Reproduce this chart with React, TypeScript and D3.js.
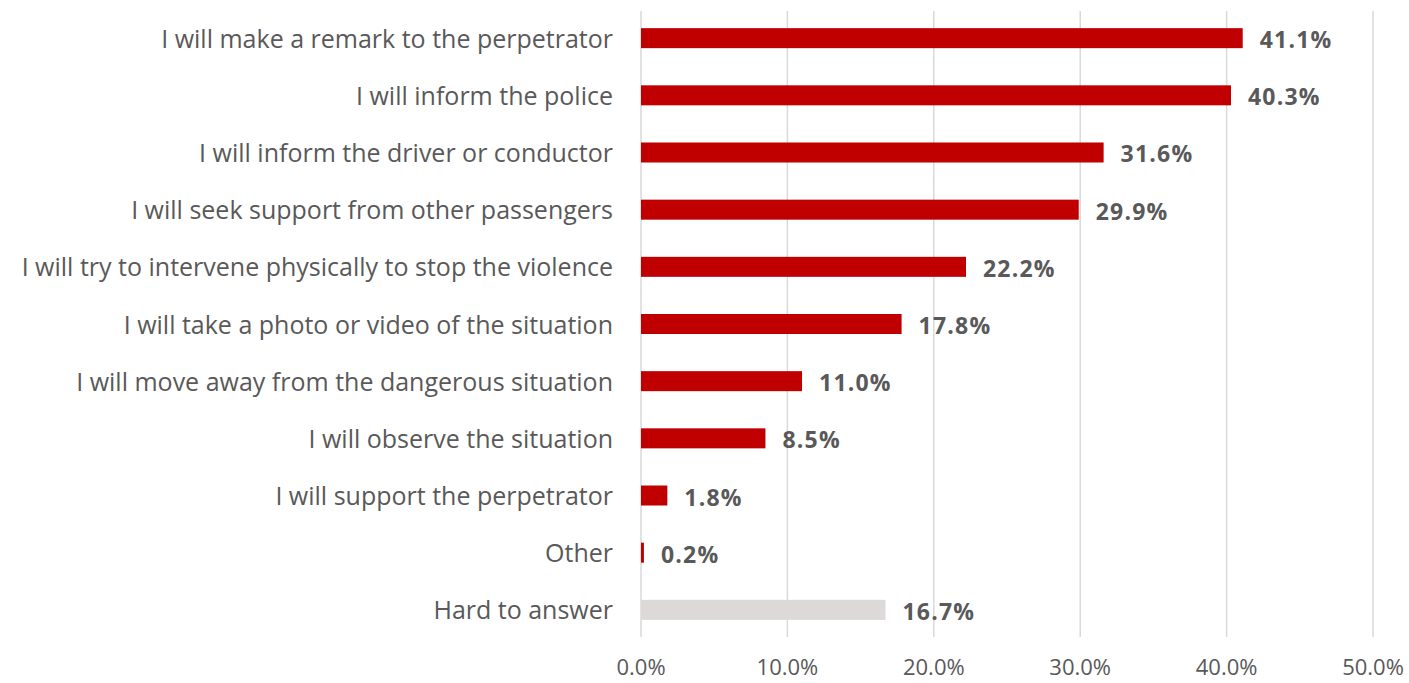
import React from "react";
import * as d3 from "d3";

const categories = [
  "I will make a remark to the perpetrator",
  "I will inform the police",
  "I will inform the driver or conductor",
  "I will seek support from other passengers",
  "I will try to intervene physically to stop the violence",
  "I will take a photo or video of the situation",
  "I will move away from the dangerous situation",
  "I will observe the situation",
  "I will support the perpetrator",
  "Other",
  "Hard to answer",
];
const values = [41.1, 40.3, 31.6, 29.9, 22.2, 17.8, 11.0, 8.5, 1.8, 0.2, 16.7];
const highlight = [false, false, false, false, false, false, false, false, false, false, true];
const ticks = [0, 10, 20, 30, 40, 50];

const W = 1409;
const H = 683;
const M = { left: 641, right: 36, top: 11, bottom: 46 };
const FONT = "'Open Sans', 'Noto Sans', sans-serif";

export default function App() {
  const x = d3.scaleLinear().domain([0, 50]).range([M.left, W - M.right]);
  const y = d3
    .scaleBand<string>()
    .domain(categories)
    .range([M.top, H - M.bottom])
    .paddingInner(0.65)
    .paddingOuter(0.3);
  const bh = y.bandwidth();
  return (
    <svg
      width={W}
      height={H}
      style={{ position: "absolute", left: 0, top: 0, background: "#fff" }}
      fontFamily={FONT}
    >
      {ticks.map((t) => (
        <g key={t}>
          <line
            x1={x(t)}
            x2={x(t)}
            y1={M.top}
            y2={H - M.bottom}
            stroke="#D9D9D9"
            strokeWidth={1.5}
          />
          <text
            x={x(t)}
            y={675}
            textAnchor="middle"
            fontSize={22}
            fill="#595959"
          >
            {t.toFixed(1) + "%"}
          </text>
        </g>
      ))}
      {categories.map((c, i) => {
        const yc = (y(c) as number) + bh / 2;
        return (
          <g key={c}>
            <rect
              x={x(0)}
              y={y(c)}
              width={x(values[i]) - x(0)}
              height={bh}
              fill={highlight[i] ? "#DDD9D9" : "#C00000"}
            />
            <text
              x={613}
              y={yc + 9.5}
              textAnchor="end"
              fontSize={25}
              fill="#595959"
            >
              {c}
            </text>
            <text
              x={x(values[i]) + 17}
              y={yc + 10}
              fontSize={23}
              letterSpacing={1.2}
              fontWeight="bold"
              fill="#595959"
            >
              {values[i].toFixed(1) + "%"}
            </text>
          </g>
        );
      })}
    </svg>
  );
}
